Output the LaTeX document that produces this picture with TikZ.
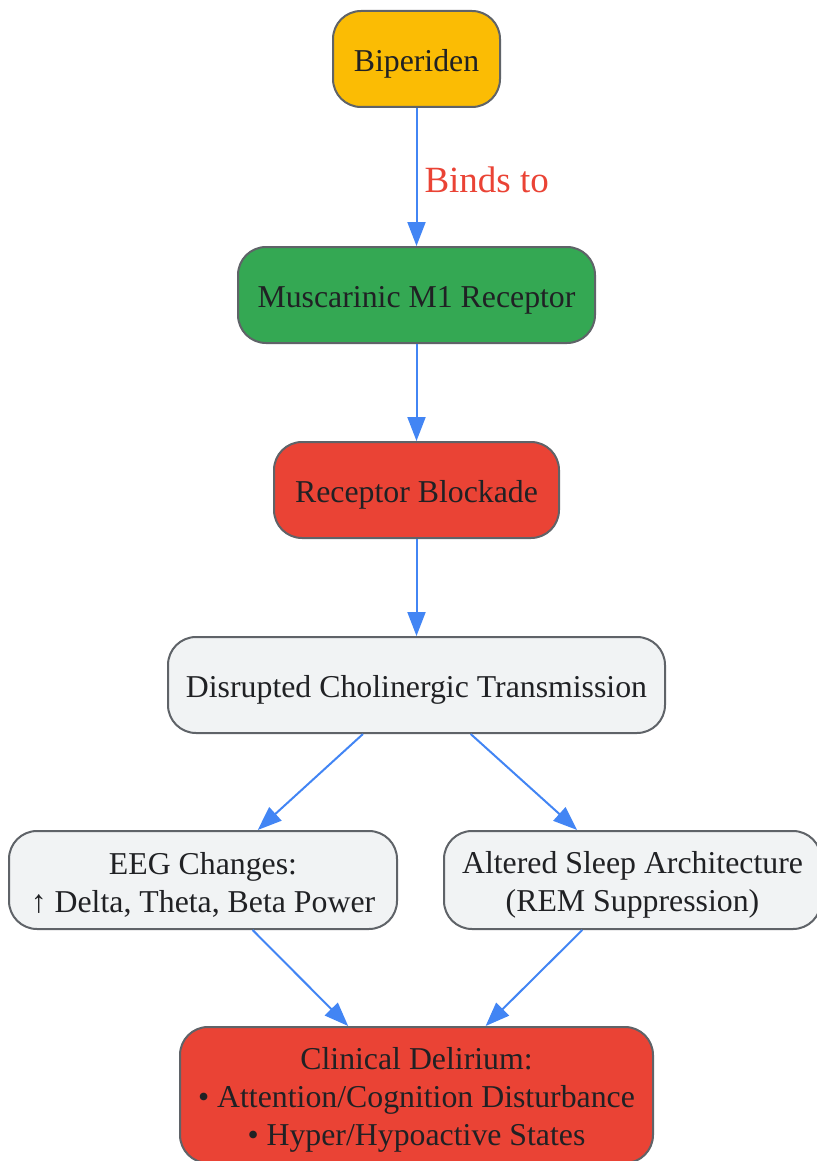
\documentclass[tikz,border=0pt]{standalone}
\usepackage{fontspec}
\setmainfont{Liberation Serif}
\usetikzlibrary{arrows.meta}
\definecolor{gyellow}{HTML}{FBBC04}
\definecolor{ggreen}{HTML}{34A853}
\definecolor{gred}{HTML}{EA4335}
\definecolor{glight}{HTML}{F1F3F4}
\definecolor{gborder}{HTML}{5F6368}
\definecolor{gblue}{HTML}{4285F4}
\definecolor{gtext}{HTML}{202124}
\newcommand{\topstrut}{\rule{0pt}{32pt}}

\begin{document}
\begin{tikzpicture}[x=1pt,y=-1pt,
	every node/.style={draw=gborder,line width=2pt,rounded corners=28pt,inner sep=0pt,
		align=center,text=gtext,font=\fontsize{31.8}{38}\selectfont},
	flow/.style={draw=gblue,line width=2pt,-{Triangle[length=24pt,width=18pt]}}]
\useasboundingbox (0,0) rectangle (816,1161);
\node[fill=gyellow,minimum width=167pt,minimum height=96pt] (bip) at (416.5,59) {\topstrut Biperiden};
\node[fill=ggreen,minimum width=357pt,minimum height=96pt] (m1) at (416.5,295) {\topstrut Muscarinic M1 Receptor};
\node[fill=gred,minimum width=285pt,minimum height=96pt] (block) at (416.5,490) {\topstrut Receptor Blockade};
\node[fill=glight,minimum width=497pt,minimum height=96pt] (chol) at (416.5,685) {\topstrut Disrupted Cholinergic Transmission};
\node[fill=glight,minimum width=388pt,minimum height=98pt] (eeg) at (203,880) {\topstrut EEG Changes:\\↑ Delta, Theta, Beta Power};
\node[fill=glight,minimum width=377pt,minimum height=98pt] (sleep) at (632.5,880) {\topstrut Altered Sleep Architecture\\(REM Suppression)};
\node[fill=gred,minimum width=473pt,minimum height=136pt] (delir) at (416.5,1095) {\topstrut Clinical Delirium:\\• Attention/Cognition Disturbance\\• Hyper/Hypoactive States};
\draw[flow] (bip) -- node[midway,right,draw=none,xshift=7pt,yshift=-3pt,text=gred,
	font=\fontsize{37}{44}\selectfont]{Binds to} (m1);
\foreach \a/\b in {m1/block,block/chol,chol/eeg,chol/sleep,eeg/delir,sleep/delir}
	\draw[flow] (\a) -- (\b);
\end{tikzpicture}
\end{document}
